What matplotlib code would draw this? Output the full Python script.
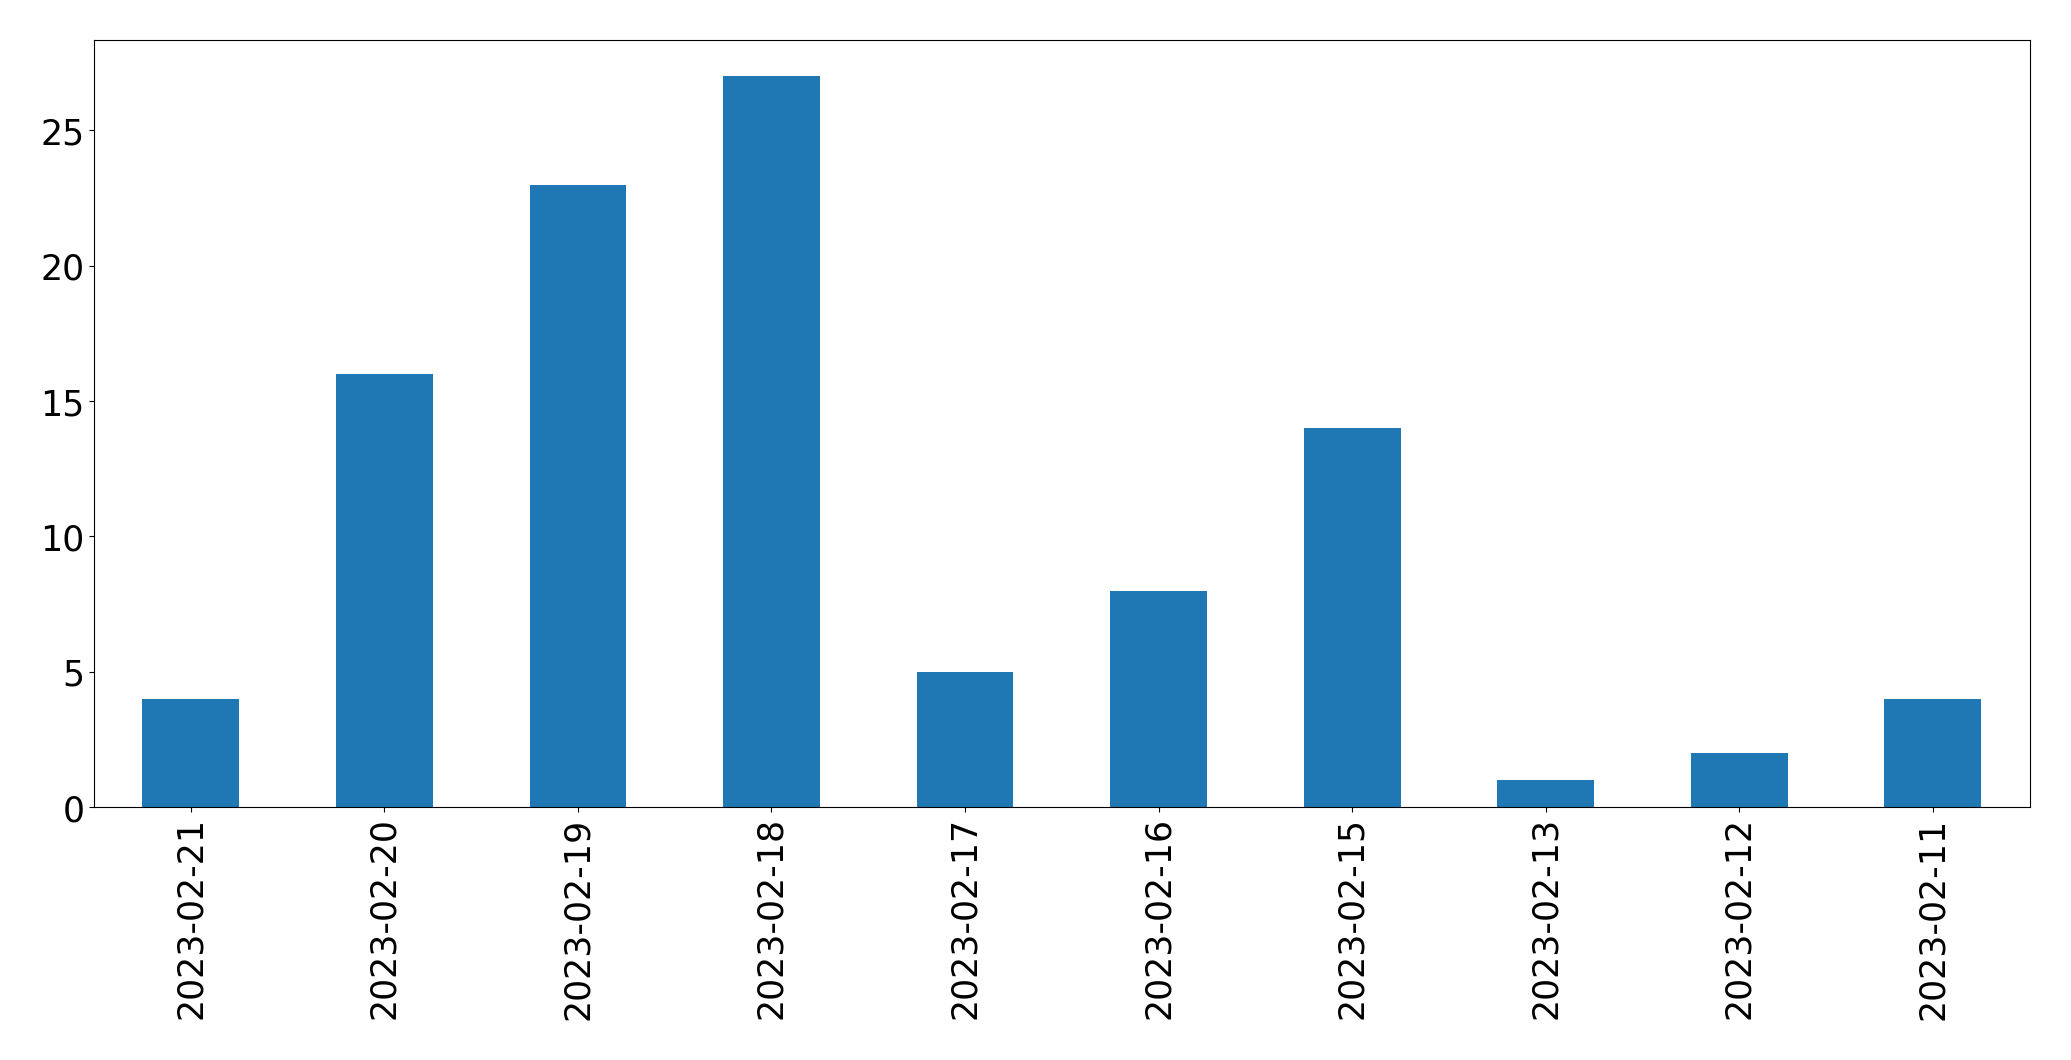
import matplotlib
matplotlib.use("Agg")
import matplotlib.pyplot as plt
import pandas as pd

dates = ["2023-02-21", "2023-02-20", "2023-02-19", "2023-02-18", "2023-02-17",
         "2023-02-16", "2023-02-15", "2023-02-13", "2023-02-12", "2023-02-11"]
counts = [4, 16, 23, 27, 5, 8, 14, 1, 2, 4]

s = pd.Series(counts, index=dates)

fig, ax = plt.subplots(figsize=(20.71, 10.605), dpi=100)
s.plot(kind="bar", ax=ax, color="#1f77b4", fontsize=25)
plt.subplots_adjust(left=0.0454, right=0.980, top=0.962, bottom=0.2385)
fig.savefig("out.png", dpi=100)
